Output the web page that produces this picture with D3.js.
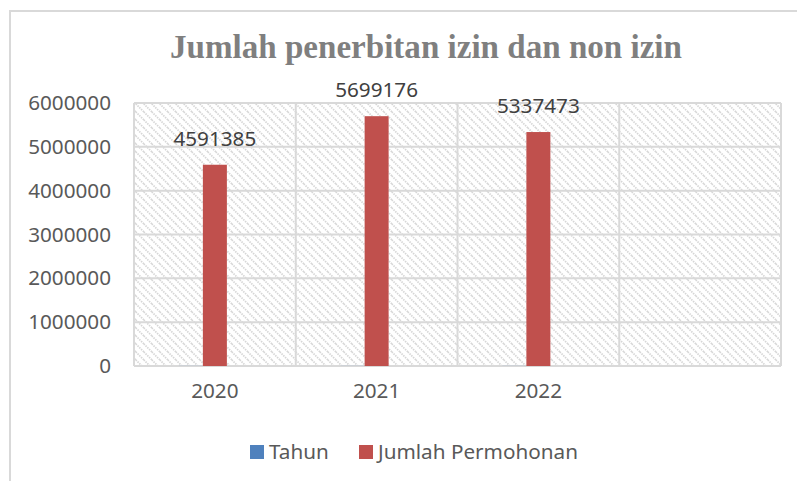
<!DOCTYPE html>
<html>
<head>
<meta charset="utf-8">
<script src="https://cdn.jsdelivr.net/npm/d3@7/dist/d3.min.js"></script>
<style>
  html, body { margin: 0; padding: 0; background: #fff; }
  svg { display: block; }
</style>
</head>
<body>
<script>
const title = 'Jumlah penerbitan izin dan non izin';
const categories = ['2020', '2021', '2022', ''];
const seriesNames = ['Tahun', 'Jumlah Permohonan'];
const tahun = [2020, 2021, 2022];
const jumlahPermohonan = [4591385, 5699176, 5337473];
const yTicks = [0, 1000000, 2000000, 3000000, 4000000, 5000000, 6000000];
const colors = ['#4f81bd', '#c0504d'];

const width = 797;
const height = 481;
const margins = {
  top: 103,
  bottom: 115,
  left: 134,
  right: 16,
}
const textColor = '#595959';
const gridColor = '#d9d9d9';
const font = "'Noto Sans', 'Open Sans', sans-serif";
const fontSize = 20.7;

const xScale = d3.scaleBand(categories, [margins.left, width - margins.right]).padding(0);
const yScale = d3.scaleLinear([0, 6000000], [height - margins.bottom, margins.top]);
const barWidth = 24;
// sub positions so that the second series sits centred in the category
const xSub = d3.scaleBand(seriesNames, [-1.5 * barWidth, 0.5 * barWidth]);

const svg = d3.create('svg')
  .attr('width', width)
  .attr('height', height)

const defs = svg.append('defs');
const pattern = defs.append('pattern')
  .attr('id', 'hatch')
  .attr('patternUnits', 'userSpaceOnUse')
  .attr('width', 8)
  .attr('height', 8)
pattern.append('rect')
  .attr('width', 8)
  .attr('height', 8)
  .attr('fill', '#fff')
pattern.append('path')
  .attr('d', 'M-2,-2 L10,10 M-2,6 L2,10 M6,-2 L10,2')
  .attr('stroke', '#d6d6d6')
  .attr('stroke-width', 1.7)
  .attr('stroke-dasharray', '1.5,1')

// chart outline (continues past the window on right and bottom)
svg.append('rect')
  .attr('x', 10)
  .attr('y', 11)
  .attr('width', 850)
  .attr('height', 500)
  .attr('fill', '#fff')
  .attr('stroke', gridColor)
  .attr('stroke-width', 2)

// plot area
svg.append('rect')
  .attr('x', margins.left)
  .attr('y', margins.top)
  .attr('width', width - margins.left - margins.right)
  .attr('height', height - margins.top - margins.bottom)
  .attr('fill', 'url(#hatch)')

// horizontal grid
svg.append('g')
  .selectAll('line')
  .data(yTicks)
  .join('line')
  .attr('x1', margins.left)
  .attr('x2', width - margins.right)
  .attr('y1', d => yScale(d))
  .attr('y2', d => yScale(d))
  .attr('stroke', gridColor)
  .attr('stroke-width', 2)

// vertical grid at category borders
svg.append('g')
  .selectAll('line')
  .data(categories.map(c => xScale(c)).concat([width - margins.right]))
  .join('line')
  .attr('x1', d => d)
  .attr('x2', d => d)
  .attr('y1', margins.top)
  .attr('y2', height - margins.bottom)
  .attr('stroke', gridColor)
  .attr('stroke-width', 2)

// bars
const seriesData = [tahun, jumlahPermohonan];
seriesNames.forEach((name, si) => {
  svg.append('g')
    .selectAll('rect')
    .data(seriesData[si])
    .join('rect')
    .attr('x', (d, i) => xScale(categories[i]) + xScale.bandwidth() / 2 + xSub(name))
    .attr('y', d => yScale(d))
    .attr('width', xSub.bandwidth())
    .attr('height', d => yScale(0) - yScale(d))
    .attr('fill', colors[si])
})

// data labels
svg.append('g')
  .selectAll('text')
  .data(jumlahPermohonan)
  .join('text')
  .attr('x', (d, i) => xScale(categories[i]) + xScale.bandwidth() / 2)
  .attr('y', d => yScale(d) - 19)
  .attr('text-anchor', 'middle')
  .attr('font-family', font)
  .attr('font-size', fontSize)
  .attr('fill', '#404040')
  .text(d => d)

// y-axis labels
const gy = svg.append('g')
  .attr('transform', `translate(${margins.left}, 0)`)
  .call(d3.axisLeft(yScale).tickValues(yTicks).tickFormat(d => d).tickSize(0).tickPadding(23))
gy.select('.domain').remove();
gy.selectAll('text')
  .attr('font-family', font)
  .attr('font-size', fontSize)
  .attr('fill', textColor)

// x-axis labels
const gx = svg.append('g')
  .attr('transform', `translate(0, ${height - margins.bottom})`)
  .call(d3.axisBottom(xScale).tickSize(0).tickPadding(17))
gx.select('.domain').remove();
gx.selectAll('text')
  .attr('font-family', font)
  .attr('font-size', fontSize)
  .attr('fill', textColor)

// title
const titleText = svg.append('text')
  .attr('x', 426)
  .attr('y', 58)
  .attr('text-anchor', 'middle')
  .attr('font-family', "'Liberation Serif', 'DejaVu Serif', serif")
  .attr('font-weight', 'bold')
  .attr('font-size', 33)
  .attr('fill', '#7f7f7f')
  .text(title)

// legend
const legend = svg.append('g')
  .attr('transform', 'translate(250, 445)')
const legendX = [0, 109];
seriesNames.forEach((name, i) => {
  const item = legend.append('g').attr('transform', `translate(${legendX[i]}, 0)`);
  item.append('rect')
    .attr('width', 14)
    .attr('height', 14)
    .attr('fill', colors[i])
  item.append('text')
    .attr('x', 19)
    .attr('y', 14)
    .attr('font-family', font)
    .attr('font-size', fontSize)
    .attr('fill', textColor)
    .text(name)
})

document.body.appendChild(svg.node());

// fit title to the measured width of the reference
const tw = titleText.node().getComputedTextLength();
titleText.attr('font-size', 33 * 512 / tw);
</script>
</body>
</html>
